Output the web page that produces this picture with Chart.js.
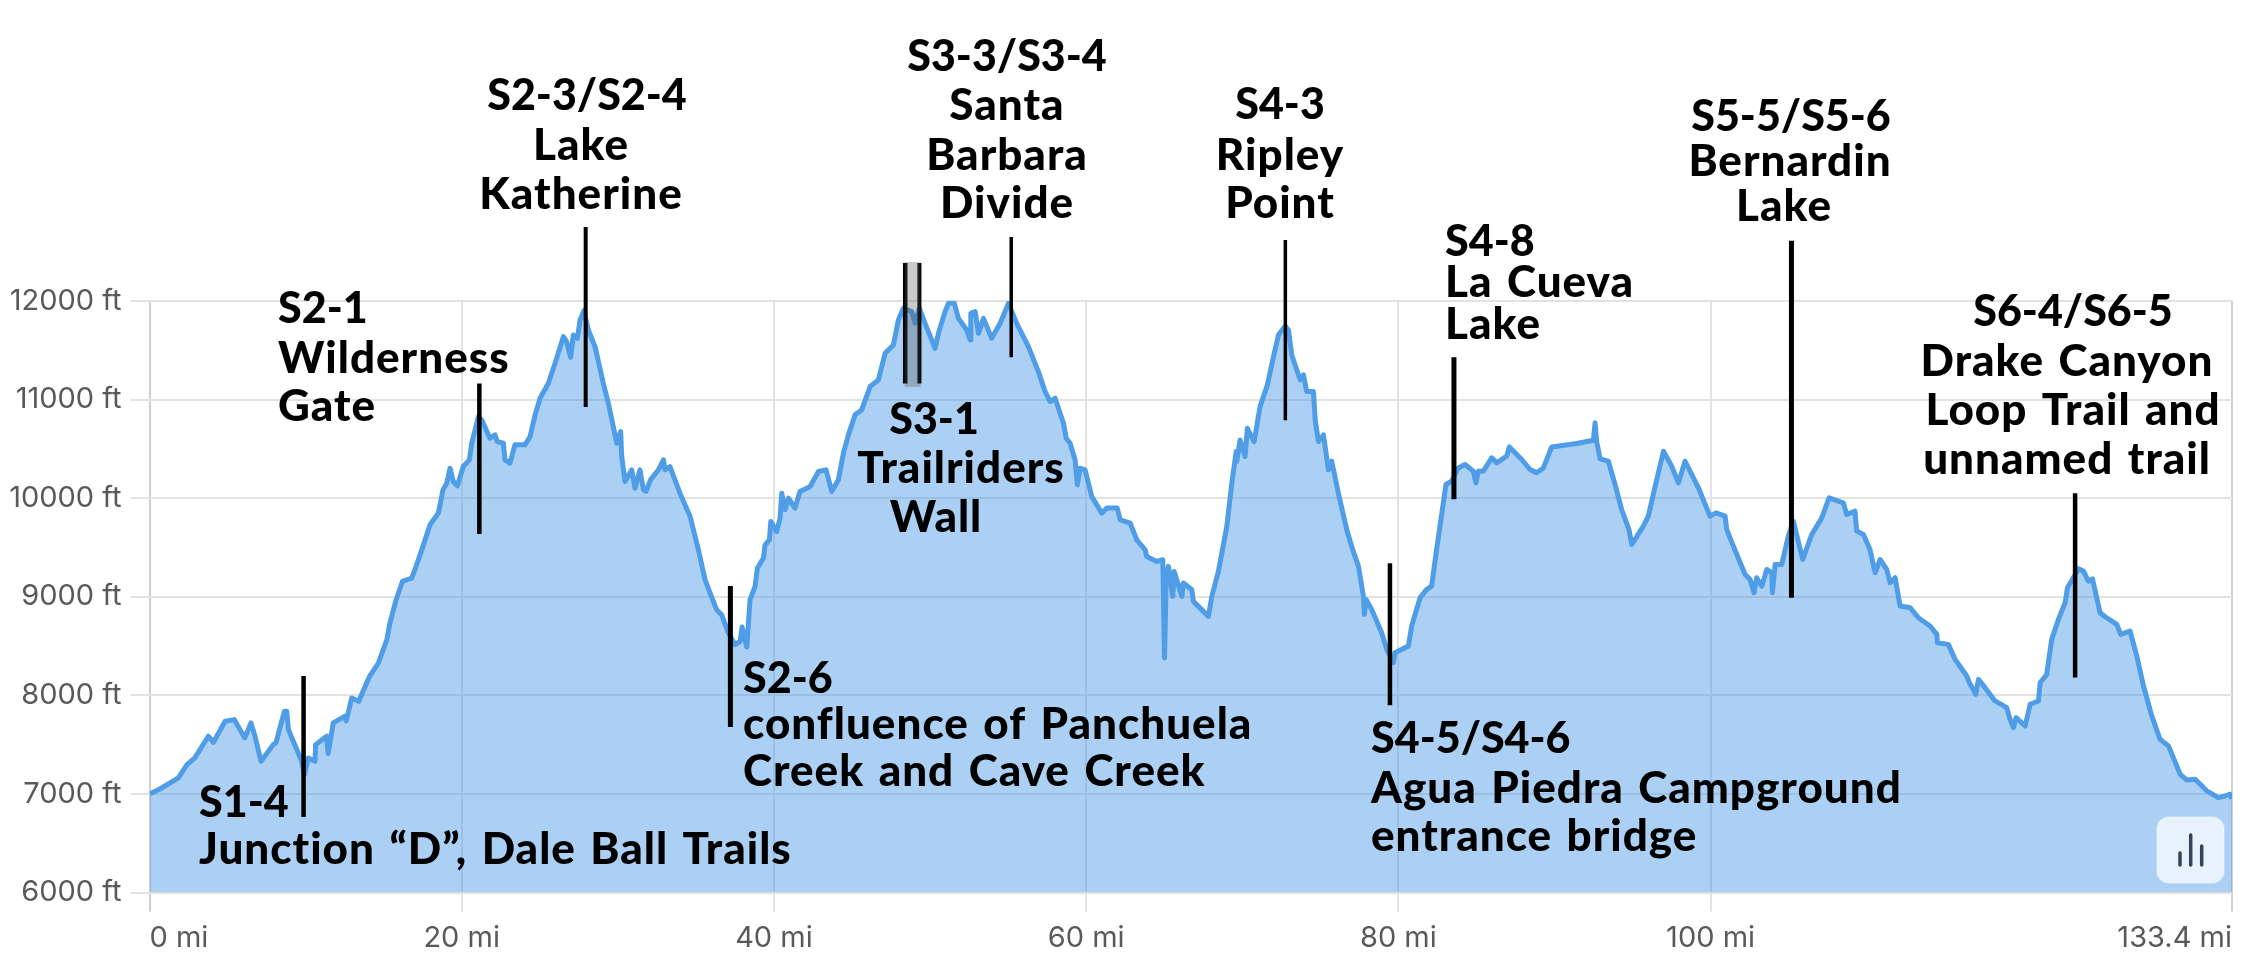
<!DOCTYPE html>
<html>
<head>
<meta charset="utf-8">
<title>Elevation profile</title>
<script src="https://cdn.jsdelivr.net/npm/chart.js@4"></script>
<style>
html, body { margin: 0; padding: 0; background: #fff; }
canvas { display: block; }
</style>
</head>
<body>
<canvas id="profile" width="2256" height="978"></canvas>
<script>
// Elevation profile
const miles = [
    0, 0.67, 1.85, 2.4, 2.9, 3.77, 4.1, 4.84, 5.43, 6.1, 6.5, 6.76, 7.14, 7.93, 8.1, 8.64, 8.79, 8.9, 9.75, 9.92,
    10.17, 10.6, 10.64, 11.35, 11.44, 11.77, 12.5, 12.6, 12.95, 13.4, 14.1, 14.66, 15.2, 15.4, 15.8, 16.2, 16.8, 17.0, 17.44, 17.97,
    18.5, 18.8, 19.04, 19.25, 19.46, 19.72, 20.1, 20.49, 20.64, 21.07, 21.28, 21.81, 22.13, 22.28, 22.67, 22.77, 23.09, 23.41, 24.05, 24.38,
    24.7, 25.02, 25.55, 25.98, 26.51, 26.72, 26.98, 27.15, 27.41, 27.58, 27.83, 28.11, 28.54, 29.07, 29.39, 29.71, 29.93, 30.18, 30.25, 30.46,
    30.89, 31.1, 31.42, 31.64, 31.8, 32.1, 32.6, 32.92, 33.02, 33.34, 33.98, 34.63, 35.16, 35.59, 35.91, 36.33, 36.65, 37.08, 37.51, 37.83,
    37.96, 38.26, 38.47, 38.79, 38.94, 39.33, 39.43, 39.71, 39.8, 40.18, 40.39, 40.5, 40.71, 40.93, 41.35, 41.67, 42.32, 42.85, 43.34, 43.7,
    44.13, 44.45, 44.77, 45.2, 45.62, 46.16, 46.69, 47.12, 47.65, 47.97, 48.29, 48.83, 49.04, 49.32, 49.68, 50.32, 50.54, 50.96, 51.18, 51.54,
    51.82, 52.35, 52.57, 52.61, 52.89, 53.1, 53.42, 53.95, 54.49, 55.02, 55.55, 56.3, 56.94, 57.37, 57.69, 58.01, 58.55, 58.72, 58.97, 59.29,
    59.44, 59.61, 59.93, 60.36, 61.0, 61.32, 61.99, 62.18, 62.82, 63.24, 63.78, 63.88, 64.52, 64.91, 65.02, 65.12, 65.27, 65.55, 65.64, 66.13,
    66.23, 66.77, 66.87, 67.83, 68.05, 68.47, 69.01, 69.33, 69.61, 69.65, 69.86, 70.18, 70.33, 70.76, 71.14, 71.61, 72.0, 72.32, 72.75, 72.96,
    73.17, 73.71, 73.92, 74.13, 74.56, 74.67, 74.88, 75.2, 75.52, 75.73, 76.15, 76.69, 77.07, 77.44, 77.76, 77.82, 77.93, 78.29, 78.93, 79.25,
    79.68, 79.78, 80.64, 80.85, 81.39, 81.81, 82.13, 82.45, 82.88, 83.05, 83.41, 83.84, 84.27, 84.8, 84.97, 85.12, 85.44, 85.98, 86.3, 86.94,
    87.11, 87.9, 88.43, 88.86, 89.29, 89.82, 91.42, 92.49, 92.6, 92.7, 92.92, 93.45, 93.88, 94.3, 94.77, 94.95, 95.69, 96.01, 96.55, 96.98,
    97.51, 97.94, 98.36, 99.22, 99.96, 100.35, 100.93, 101.03, 101.46, 102.21, 102.53, 102.78, 102.95, 103.28, 103.6, 103.92, 103.96, 104.13, 104.56, 104.98,
    105.3, 105.9, 106.48, 107.12, 107.59, 108.5, 108.72, 109.25, 109.36, 109.79, 110.21, 110.54, 110.86, 111.28, 111.5, 111.82, 112.14, 112.78, 113.31, 114.06,
    114.49, 114.53, 115.23, 115.66, 116.41, 116.58, 116.99, 117.16, 117.58, 118.22, 118.97, 119.18, 119.4, 119.57, 120.15, 120.47, 121.0, 121.11, 121.53, 121.85,
    122.28, 122.71, 122.86, 123.24, 123.56, 123.88, 124.2, 124.46, 124.95, 125.27, 126.02, 126.27, 126.87, 127.3, 127.73, 128.26, 128.79, 129.33, 130.08, 130.5,
    131.04, 131.78, 132.53, 132.96, 133.28, 133.4
];
const elevations = [
    7000, 7050, 7163, 7297, 7365, 7585, 7524, 7737, 7754, 7568, 7720, 7585, 7331, 7500, 7520, 7838, 7838, 7652, 7331, 7196,
    7365, 7331, 7500, 7585, 7409, 7720, 7787, 7740, 7973, 7939, 8193, 8328, 8564, 8733, 8970, 9155, 9189, 9274, 9476, 9730,
    9848, 10084, 10152, 10304, 10169, 10125, 10321, 10389, 10557, 10828, 10794, 10608, 10642, 10574, 10557, 10389, 10355, 10541, 10541, 10625,
    10845, 11013, 11165, 11368, 11638, 11588, 11429, 11655, 11621, 11807, 11902, 11706, 11537, 11165, 10963, 10726, 10557, 10676, 10422, 10169,
    10287, 10101, 10287, 10085, 10068, 10186, 10287, 10389, 10287, 10321, 10051, 9814, 9477, 9172, 9037, 8868, 8818, 8632, 8514, 8548,
    8693, 8490, 8970, 9105, 9291, 9392, 9527, 9578, 9764, 9662, 9797, 10051, 9882, 10000, 9899, 10068, 10118, 10270, 10287, 10068,
    10186, 10456, 10642, 10845, 10895, 11132, 11199, 11470, 11554, 11807, 11926, 11892, 11774, 11926, 11774, 11520, 11672, 11892, 11976, 11983,
    11824, 11706, 11605, 11875, 11892, 11672, 11824, 11622, 11774, 11976, 11774, 11537, 11284, 11081, 10980, 11014, 10760, 10608, 10557, 10389,
    10135, 10304, 10287, 10017, 9848, 9899, 9899, 9781, 9747, 9578, 9476, 9409, 9358, 9375, 8379, 9139, 9308, 9004, 9257, 9004,
    9139, 9071, 8953, 8801, 9004, 9257, 9713, 10152, 10473, 10372, 10591, 10422, 10709, 10574, 10929, 11149, 11436, 11655, 11746, 11706,
    11453, 11199, 11250, 11081, 11081, 10794, 10574, 10642, 10287, 10375, 10054, 9683, 9480, 9311, 9007, 8821, 8973, 8872, 8635, 8467,
    8331, 8433, 8500, 8703, 8990, 9075, 9108, 9480, 9953, 10139, 10172, 10307, 10341, 10274, 10155, 10274, 10274, 10409, 10358, 10426,
    10520, 10392, 10291, 10257, 10307, 10520, 10554, 10588, 10764, 10578, 10399, 10375, 10139, 9885, 9683, 9530, 9716, 9818, 10189, 10476,
    10324, 10155, 10375, 10105, 9818, 9851, 9818, 9682, 9514, 9226, 9176, 9041, 9193, 9108, 9277, 9243, 9041, 9328, 9328, 9615,
    9767, 9378, 9632, 9800, 10003, 9953, 9834, 9868, 9666, 9632, 9480, 9243, 9378, 9277, 9142, 9193, 8906, 8889, 8787, 8703,
    8618, 8534, 8517, 8365, 8196, 8128, 8010, 8162, 8078, 7943, 7875, 7757, 7672, 7774, 7689, 7909, 7943, 8128, 8213, 8568,
    8770, 8939, 9091, 9193, 9284, 9260, 9159, 9182, 8838, 8797, 8720, 8618, 8652, 8399, 8095, 7791, 7554, 7487, 7199, 7142,
    7149, 7031, 6963, 6979, 6997, 6950
];

const elevationTicks = [6000, 7000, 8000, 9000, 10000, 11000, 12000];
const mileTicks = [0, 20, 40, 60, 80, 100, 133.4];

// Vertical markers: mile, top and bottom elevation of each bar
const markerMiles = [9.87, 21.13, 27.94, 37.21, 48.41, 49.32, 55.2, 72.76, 79.46, 83.56, 105.18, 123.35];
const markerTops = [8197, 11163, 12750, 9110, 12385, 12385, 12650, 12620, 9340, 11430, 12610, 10050];
const markerBottoms = [6767, 9637, 10925, 7680, 11163, 11163, 11430, 10790, 7900, 9990, 8990, 8180];
const markerWidths = [4.5, 4.5, 4, 5, 4.5, 4, 3.5, 3.5, 4.5, 5, 5, 4.5];

// Grey band between the two S3-1 bars
const bandMiles = [48.37, 49.39];
const bandElevations = [11128, 12395];

// Annotation text
const labelText = [
    'S1-4', 'Junction \u201CD\u201D, Dale Ball Trails',
    'S2-1', 'Wilderness', 'Gate',
    'S2-3/S2-4', 'Lake', 'Katherine',
    'S2-6', 'confluence of Panchuela', 'Creek and Cave Creek',
    'S3-3/S3-4', 'Santa', 'Barbara', 'Divide',
    'S3-1', 'Trailriders', 'Wall',
    'S4-3', 'Ripley', 'Point',
    'S4-8', 'La Cueva', 'Lake',
    'S4-5/S4-6', 'Agua Piedra Campground', 'entrance bridge',
    'S5-5/S5-6', 'Bernardin', 'Lake',
    'S6-4/S6-5', 'Drake Canyon', 'Loop Trail and', 'unnamed trail'
];

// Where each line of text goes on the page: [x, baseline, align]
const labelLayout = [
    [199, 817, 'left'], [199, 864, 'left'],
    [278, 323, 'left'], [278, 373, 'left'], [278, 421, 'left'],
    [587, 110, 'center'], [581, 160, 'center'], [581, 209, 'center'],
    [743, 693, 'left'], [743, 739, 'left'], [743, 786, 'left'],
    [1007, 71, 'center'], [1007, 120, 'center'], [1007, 170, 'center'], [1007, 218, 'center'],
    [934, 434, 'center'], [961, 483, 'center'], [936, 532, 'center'],
    [1280, 119, 'center'], [1280, 170, 'center'], [1280, 218, 'center'],
    [1445, 256, 'left'], [1445, 297, 'left'], [1445, 339, 'left'],
    [1371, 753, 'left'], [1371, 803, 'left'], [1371, 851, 'left'],
    [1791, 131, 'center'], [1790, 176, 'center'], [1784, 221, 'center'],
    [2073, 326, 'center'], [2067, 376, 'center'], [2073, 425, 'center'], [2067, 474, 'center']
];

const TICK_FONT = { family: 'Inter', size: 29 };
const TICK_COLOR = '#58595b';

// First and last mile labels sit inside the plot edges
const edgeLabelsPlugin = {
    id: 'edgeLabels',
    beforeDraw(chart) {
        const items = chart.scales.x.getLabelItems(chart.chartArea);
        items[0].options.textAlign = 'left';
        items[items.length - 1].options.textAlign = 'right';
    }
};

const annotationPlugin = {
    id: 'annotations',
    afterDatasetsDraw(chart) {
        const { ctx, scales: { x, y } } = chart;
        ctx.save();

        // grey band
        ctx.fillStyle = 'rgba(80, 80, 80, 0.3)';
        const bandLeft = x.getPixelForValue(bandMiles[0]);
        const bandTop = y.getPixelForValue(bandElevations[1]);
        ctx.fillRect(bandLeft, bandTop,
            x.getPixelForValue(bandMiles[1]) - bandLeft,
            y.getPixelForValue(bandElevations[0]) - bandTop);

        // text, section codes are set a little tighter than the names
        ctx.fillStyle = '#000';
        ctx.textBaseline = 'alphabetic';
        labelText.forEach((line, i) => {
            const [px, py, align] = labelLayout[i];
            const isCode = /^S\d/.test(line);
            ctx.font = (isCode ? '900 43px' : '900 44px') + ' Lato';
            ctx.letterSpacing = isCode ? '0px' : '1px';
            ctx.wordSpacing = isCode ? '0px' : '3px';
            ctx.textAlign = align;
            ctx.fillText(line, px, py);
        });
        ctx.letterSpacing = '0px';
        ctx.wordSpacing = '0px';

        // chart toggle button
        ctx.beginPath();
        ctx.roundRect(2157, 817, 67, 66, 12);
        ctx.fillStyle = 'rgba(255, 255, 255, 0.72)';
        ctx.fill();
        ctx.strokeStyle = 'rgba(255, 255, 255, 0.25)';
        ctx.lineWidth = 2;
        ctx.stroke();
        ctx.strokeStyle = '#33435a';
        ctx.lineWidth = 3.5;
        ctx.lineCap = 'round';
        [[2180, 853], [2190.7, 835], [2201.7, 846]].forEach(([bx, by]) => {
            ctx.beginPath();
            ctx.moveTo(bx, by);
            ctx.lineTo(bx, 865);
            ctx.stroke();
        });
        ctx.restore();
    }
};

const markerDatasets = markerMiles.map((mile, i) => ({
    data: [{ x: mile, y: markerTops[i] }, { x: mile, y: markerBottoms[i] }],
    borderColor: '#000',
    borderWidth: markerWidths[i],
    pointRadius: 0,
    fill: false,
    clip: false,
    order: 0
}));

new Chart(document.getElementById('profile'), {
    type: 'line',
    data: {
        datasets: [
            ...markerDatasets,
            {
                data: miles.map((mile, i) => ({ x: mile, y: elevations[i] })),
                borderColor: '#4f9de6',
                borderWidth: 5,
                backgroundColor: 'rgba(70, 150, 230, 0.45)',
                borderJoinStyle: 'round',
                fill: 'start',
                tension: 0,
                pointRadius: 0,
                order: 1
            }
        ]
    },
    options: {
        responsive: false,
        animation: false,
        devicePixelRatio: 1,
        layout: { padding: { top: 301, right: 24, bottom: 0, left: 0 } },
        plugins: { legend: { display: false }, tooltip: { enabled: false } },
        scales: {
            x: {
                type: 'linear',
                min: 0,
                max: 133.4,
                afterBuildTicks(scale) {
                    scale.ticks = mileTicks.map(value => ({ value }));
                },
                afterFit(scale) {
                    scale.height = 85.5;
                    scale.paddingLeft = 0;
                    scale.paddingRight = 0;
                },
                border: { display: false },
                grid: {
                    color: ctx => (ctx.index === 0 || ctx.index === mileTicks.length - 1) ? '#d0d0d0' : '#e2e2e2',
                    lineWidth: 2,
                    tickLength: 19
                },
                ticks: {
                    autoSkip: false,
                    maxRotation: 0,
                    padding: 9,
                    font: TICK_FONT,
                    color: TICK_COLOR,
                    callback: value => value + ' mi'
                }
            },
            y: {
                type: 'linear',
                min: 6000,
                max: 12000,
                afterBuildTicks(scale) {
                    scale.ticks = elevationTicks.map(value => ({ value }));
                },
                afterFit(scale) {
                    scale.width = 149.5;
                    scale.paddingTop = 0;
                    scale.paddingBottom = 0;
                },
                border: { display: false },
                grid: { color: '#e2e2e2', lineWidth: 2, tickLength: 19 },
                ticks: {
                    padding: 9,
                    font: TICK_FONT,
                    color: TICK_COLOR,
                    callback: value => value + ' ft'
                }
            }
        }
    },
    plugins: [edgeLabelsPlugin, annotationPlugin]
});
</script>
</body>
</html>
